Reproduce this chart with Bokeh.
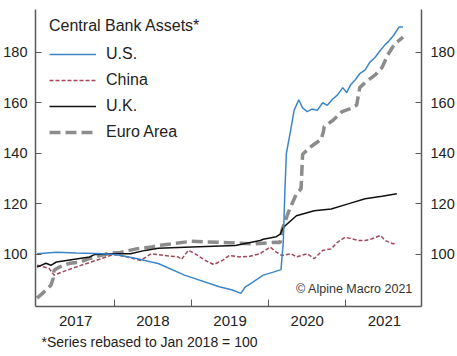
from bokeh.plotting import figure
from bokeh.models import (Range1d, LinearAxis, FixedTicker, Legend, LegendItem,
                          Label, Title, CustomJSTickFormatter)
from bokeh.embed import file_html
from bokeh.resources import INLINE

# ---- data (x = decimal year, y = index Jan 2018 = 100) ----
us_x = [2017.00, 2017.25, 2017.51, 2017.87, 2018.04, 2018.30, 2018.48, 2018.57, 2018.91,
        2019.36, 2019.53, 2019.64, 2019.70, 2019.80, 2019.93, 2020.06, 2020.13, 2020.16,
        2020.19, 2020.21, 2020.23, 2020.29, 2020.33, 2020.39, 2020.44, 2020.50, 2020.56,
        2020.63, 2020.70, 2020.76, 2020.83, 2020.89, 2020.96, 2021.01, 2021.06, 2021.12,
        2021.18, 2021.25, 2021.31, 2021.38, 2021.44, 2021.51, 2021.56, 2021.62, 2021.69, 2021.74]
us_y = [100.3, 100.9, 100.6, 100.3, 99.9, 98.3, 97.0, 96.4, 91.8,
        87.2, 85.9, 84.6, 87.2, 89.1, 91.8, 93.0, 93.7, 94.0,
        105.0, 125.0, 140.0, 150.0, 157.0, 161.2, 158.0, 156.5, 157.5,
        157.0, 160.0, 159.0, 161.5, 163.0, 166.0, 164.0, 167.0, 169.0,
        171.5, 173.0, 176.0, 178.0, 180.5, 183.0, 184.5, 186.7, 190.0, 190.0]

china_x = [2017.00, 2017.155, 2017.22, 2017.38, 2017.60, 2017.80, 2017.99, 2018.17, 2018.34,
           2018.48, 2018.65, 2018.83, 2018.87, 2018.96, 2019.04, 2019.18, 2019.29, 2019.40,
           2019.49, 2019.62, 2019.76, 2019.89, 2020.02, 2020.10, 2020.17, 2020.29, 2020.36,
           2020.50, 2020.59, 2020.70, 2020.81, 2020.89, 2020.99, 2021.08, 2021.16, 2021.25,
           2021.34, 2021.45, 2021.51, 2021.61, 2021.66]
china_y = [95.7, 94.5, 91.8, 93.7, 96.0, 98.0, 100.0, 99.0, 97.6,
           100.3, 99.6, 99.0, 98.0, 101.6, 100.4, 97.6, 96.0, 97.6,
           99.6, 99.0, 99.3, 100.3, 102.9, 100.9, 99.6, 100.3, 99.0,
           100.3, 98.3, 101.6, 102.2, 104.8, 106.8, 106.2, 105.5, 105.5,
           106.2, 107.5, 105.5, 104.2, 104.4]

uk_x = [2017.00, 2017.115, 2017.18, 2017.25, 2017.38, 2017.55, 2017.68, 2017.75, 2017.91,
        2018.04, 2018.21, 2018.40, 2018.57, 2019.00, 2019.57, 2019.89, 2019.93, 2020.10,
        2020.15, 2020.19, 2020.36, 2020.59, 2020.81, 2021.03, 2021.25, 2021.47, 2021.66]
uk_y = [95.0, 96.5, 95.7, 97.0, 97.6, 98.4, 99.0, 100.0, 100.3,
        100.3, 100.3, 101.6, 102.4, 102.9, 103.5, 105.5, 106.0, 107.0,
        108.0, 110.7, 115.3, 117.3, 118.0, 120.0, 122.0, 123.0, 124.0]

euro_x = [2017.00, 2017.075, 2017.18, 2017.21, 2017.22, 2017.29, 2017.42, 2017.55, 2017.68,
          2017.82, 2017.93, 2018.08, 2018.30, 2018.48, 2018.57, 2019.00, 2019.36, 2019.80,
          2020.10, 2020.15, 2020.17, 2020.26, 2020.36, 2020.42, 2020.44, 2020.55, 2020.68,
          2020.71, 2020.72, 2020.83, 2020.95, 2021.05, 2021.14, 2021.18, 2021.25, 2021.38,
          2021.47, 2021.54, 2021.62, 2021.69, 2021.74]
euro_y = [82.7, 84.7, 87.8, 90.6, 93.7, 95.0, 96.5, 96.9, 98.4,
          99.6, 100.4, 100.8, 102.3, 102.9, 103.5, 105.2, 104.8, 104.2,
          104.8, 104.7, 109.4, 117.0, 124.0, 126.0, 139.6, 142.7, 145.5,
          148.6, 150.6, 153.0, 156.5, 157.6, 159.0, 166.0, 168.0, 171.0,
          174.0, 178.8, 182.7, 184.7, 186.0]

year_ticks = [2017.5, 2018.5, 2019.5, 2020.5, 2021.5]
year_labels = ["2017", "2018", "2019", "2020", "2021"]
year_bounds = [2018, 2019, 2020, 2021]
value_ticks = [100, 120, 140, 160, 180]

series_names = ["U.S.", "China", "U.K.", "Euro Area"]

# ---- figure ----
FONT = "Liberation Sans"
AXIS_COLOR = "#5a5a5a"
TEXT_COLOR = "#222222"

p = figure(width=457, height=356, output_backend="svg", toolbar_location=None,
           x_range=Range1d(2016.98, 2021.98), y_range=Range1d(79.4, 196.9),
           min_border_top=9, min_border_right=0, min_border_left=0, min_border_bottom=50)
p.outline_line_color = None
p.grid.visible = False
p.background_fill_color = "white"
p.border_fill_color = "white"

# lines
r_euro = p.line(euro_x, euro_y, line_color="#8c8c8c", line_width=3.5, line_dash="11 5")
r_china = p.line(china_x, china_y, line_color="#a3485c", line_width=1.5, line_dash="4 2")
r_uk = p.line(uk_x, uk_y, line_color="#111111", line_width=1.5)
r_us = p.line(us_x, us_y, line_color="#3b86c8", line_width=1.5)

# x axis
xa = p.xaxis[0]
xa.ticker = FixedTicker(ticks=year_ticks, minor_ticks=year_bounds)
xa.formatter = CustomJSTickFormatter(args=dict(pos=year_ticks, names=year_labels),
                                     code="const i = pos.indexOf(tick); return i >= 0 ? names[i] : '';")
xa.major_tick_in = 0
xa.major_tick_out = 0
xa.minor_tick_in = 7
xa.minor_tick_out = 0
xa.minor_tick_line_color = AXIS_COLOR
xa.minor_tick_line_width = 1
xa.axis_line_color = AXIS_COLOR
xa.axis_line_width = 1.5
xa.major_label_text_font = FONT
xa.major_label_text_font_size = "15px"
xa.major_label_text_color = TEXT_COLOR
xa.major_label_standoff = 9

# y axes
ya = p.yaxis[0]
ya_r = LinearAxis()
p.add_layout(ya_r, "right")
for ax, standoff in ((ya, 8), (ya_r, 9)):
    ax.ticker = FixedTicker(ticks=value_ticks)
    ax.major_tick_in = 6
    ax.major_tick_out = 0
    ax.minor_tick_in = 0
    ax.minor_tick_out = 0
    ax.major_tick_line_color = AXIS_COLOR
    ax.axis_line_color = AXIS_COLOR
    ax.axis_line_width = 1.5
    ax.major_label_text_font = FONT
    ax.major_label_text_font_size = "14.5px"
    ax.major_label_text_color = TEXT_COLOR
    ax.major_label_standoff = standoff

# legend
legend = Legend(items=[LegendItem(label=series_names[0], renderers=[r_us]),
                       LegendItem(label=series_names[1], renderers=[r_china]),
                       LegendItem(label=series_names[2], renderers=[r_uk]),
                       LegendItem(label=series_names[3], renderers=[r_euro])],
                title="Central Bank Assets*", location=(14, 164),
                margin=0, padding=0, border_line_color=None, background_fill_alpha=0)
legend.title_text_font = FONT
legend.title_text_font_size = "16px"
legend.title_text_font_style = "normal"
legend.title_text_color = TEXT_COLOR
legend.title_standoff = 9
legend.label_text_font = FONT
legend.label_text_font_size = "16px"
legend.label_text_color = TEXT_COLOR
legend.glyph_width = 47
legend.glyph_height = 20
legend.label_height = 20
legend.spacing = 6
legend.label_standoff = 10
p.add_layout(legend, "center")

# copyright label
p.add_layout(Label(x=2021.87, y=86.3, text="\u00a9 Alpine Macro 2021", text_align="right",
                   text_baseline="middle", text_font=FONT, text_font_size="12.5px",
                   text_color="#333333"))

# footnote
p.add_layout(Title(text="*Series rebased to Jan 2018 = 100", align="left", offset=6,
                   text_font=FONT, text_font_size="14px", text_font_style="normal",
                   text_color=TEXT_COLOR, standoff=6), "below")

open("out.html", "w").write(file_html(p, INLINE))
